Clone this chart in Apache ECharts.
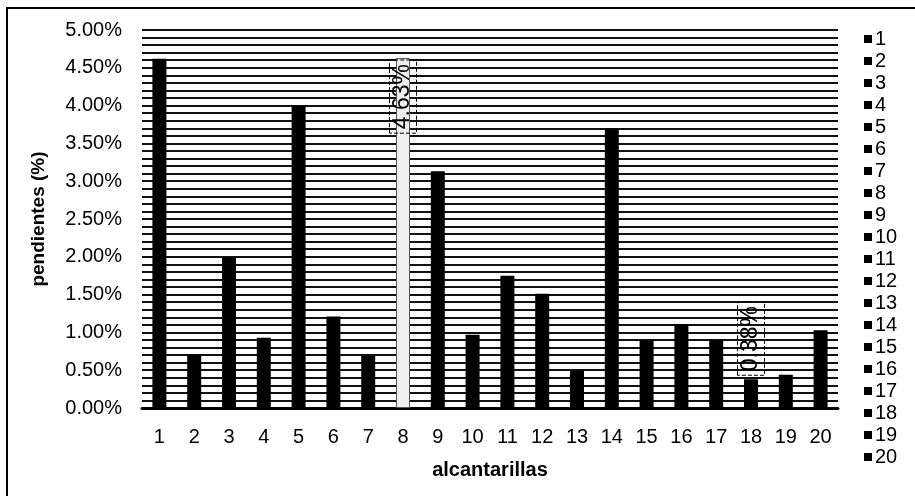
<!DOCTYPE html>
<html>
<head>
<meta charset="utf-8">
<script src="https://cdn.jsdelivr.net/npm/echarts@6/dist/echarts.min.js"></script>
<style>html,body{margin:0;padding:0;background:#fff}#c{width:915px;height:496px}</style>
</head>
<body>
<div id="c"></div>
<script>
var categories = ['1','2','3','4','5','6','7','8','9','10','11','12','13','14','15','16','17','18','19','20'];
var values = [4.62, 0.70, 1.99, 0.93, 4.00, 1.21, 0.69, 4.63, 3.13, 0.97, 1.75, 1.51, 0.49, 3.70, 0.89, 1.11, 0.90, 0.38, 0.44, 1.03];
var yTicks = [0, 0.5, 1, 1.5, 2, 2.5, 3, 3.5, 4, 4.5, 5];
var labelled = {7: 'insideTop', 17: 'top'};

var FONT = 'Liberation Sans, Arial, sans-serif';
var chart = echarts.init(document.getElementById('c'));

var series = categories.map(function (name, i) {
  var data = categories.map(function (_, j) {
    if (j !== i) return '-';
    var item = { value: values[j] };
    if (labelled[j]) {
      var inside = labelled[j] === 'insideTop';
      item.label = {
        show: true,
        position: labelled[j],
        rotate: 90,
        align: inside ? 'right' : 'left',
        verticalAlign: 'middle',
        distance: inside ? 2 : 4,
        formatter: function (p) { return p.value.toFixed(2) + '%'; },
        fontFamily: FONT,
        fontSize: 23,
        color: '#000',
        borderType: 'dashed',
        borderColor: '#000',
        borderWidth: 1,
        padding: [2, 4, 2, 4]
      };
    }
    return item;
  });
  var isHi = (i === 7);
  return {
    name: name,
    type: 'bar',
    stack: 'all',
    barWidth: 14,
    data: data,
    itemStyle: isHi ? { color: '#eeeeee', borderColor: '#555', borderWidth: 1 } : { color: '#000' },
    emphasis: { disabled: true }
  };
});

chart.setOption({
  backgroundColor: '#fff',
  animation: false,
  graphic: [{
    type: 'rect',
    shape: { x: 7, y: 8, width: 1000, height: 600 },
    style: { fill: 'none', stroke: '#000', lineWidth: 2 },
    silent: true
  }],
  legend: {
    orient: 'vertical',
    left: 864,
    top: 29,
    height: 470,
    padding: 0,
    itemWidth: 8,
    itemHeight: 8,
    itemGap: 2,
    icon: 'rect',
    textStyle: { fontFamily: FONT, fontSize: 20, color: '#000', lineHeight: 20, padding: [0, 0, 0, -2] },
    data: categories.map(function (n) { return { name: n, itemStyle: { color: '#000', borderWidth: 0 } }; })
  },
  grid: { left: 142, right: 77, top: 30, bottom: 88, containLabel: false },
  xAxis: {
    type: 'category',
    data: categories,
    name: 'alcantarillas',
    nameLocation: 'middle',
    nameGap: 52,
    nameTextStyle: { fontFamily: FONT, fontSize: 20, fontWeight: 'bold', color: '#000' },
    axisLine: { lineStyle: { color: '#000', width: 3 } },
    axisTick: { show: false },
    axisLabel: { fontFamily: FONT, fontSize: 20, color: '#000', margin: 19 }
  },
  yAxis: {
    type: 'value',
    min: yTicks[0],
    max: yTicks[yTicks.length - 1],
    interval: 0.5,
    name: 'pendientes (%)',
    nameLocation: 'middle',
    nameGap: 94,
    nameTextStyle: { fontFamily: FONT, fontSize: 19, fontWeight: 'bold', color: '#000' },
    axisLine: { show: false },
    axisTick: { show: false },
    axisLabel: {
      fontFamily: FONT, fontSize: 20, color: '#000', margin: 20,
      formatter: function (v) { return v.toFixed(2) + '%'; }
    },
    splitLine: { show: true, lineStyle: { color: '#111', width: 2 } },
    minorTick: { show: false, splitNumber: 5 },
    minorSplitLine: { show: true, lineStyle: { color: '#111', width: 2 } }
  },
  series: series
});
</script>
</body>
</html>
